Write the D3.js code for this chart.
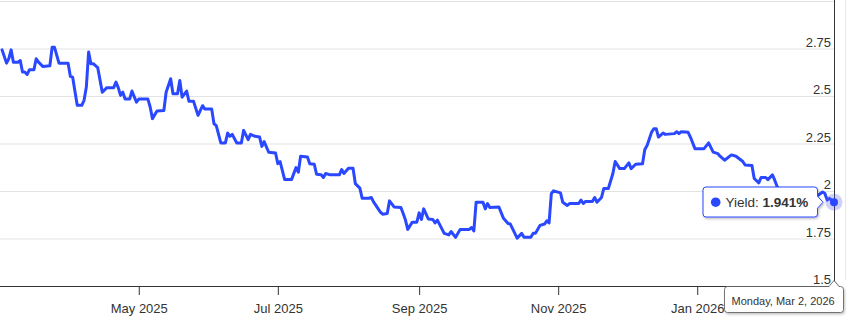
<!DOCTYPE html>
<html>
<head>
<meta charset="utf-8">
<script src="https://cdn.jsdelivr.net/npm/d3@7"></script>
<style>
  html, body { margin: 0; padding: 0; background: #fff; }
  svg { display: block; font-family: "Liberation Sans", Arial, Helvetica, sans-serif; }
</style>
</head>
<body>
<svg id="chart" width="863" height="333"></svg>
<script>
// ---- DATA ----
const dates = [
"2025-03-02","2025-03-04","2025-03-05","2025-03-06","2025-03-07","2025-03-09","2025-03-10","2025-03-11","2025-03-12","2025-03-13",
"2025-03-14","2025-03-16","2025-03-17","2025-03-18","2025-03-20","2025-03-23","2025-03-24","2025-03-25","2025-03-27","2025-03-31",
"2025-04-01","2025-04-02","2025-04-04","2025-04-06","2025-04-07","2025-04-08","2025-04-09","2025-04-10","2025-04-11","2025-04-13",
"2025-04-15","2025-04-17","2025-04-20","2025-04-21","2025-04-22","2025-04-23","2025-04-24","2025-04-25","2025-04-27","2025-04-28",
"2025-04-30","2025-05-01","2025-05-05","2025-05-06","2025-05-07","2025-05-09","2025-05-12","2025-05-13","2025-05-15","2025-05-16",
"2025-05-18","2025-05-19","2025-05-20","2025-05-22","2025-05-23","2025-05-25","2025-05-27","2025-05-29","2025-05-30","2025-06-02",
"2025-06-03","2025-06-04","2025-06-06","2025-06-08","2025-06-09","2025-06-10","2025-06-11","2025-06-13","2025-06-15","2025-06-16",
"2025-06-18","2025-06-19","2025-06-21","2025-06-23","2025-06-24","2025-06-25","2025-06-27","2025-06-30","2025-07-01","2025-07-02",
"2025-07-04","2025-07-07","2025-07-09","2025-07-10","2025-07-11","2025-07-14","2025-07-15","2025-07-17","2025-07-18","2025-07-20",
"2025-07-21","2025-07-22","2025-07-24","2025-07-28","2025-07-29","2025-07-30","2025-08-01","2025-08-03","2025-08-04","2025-08-06",
"2025-08-07","2025-08-10","2025-08-11","2025-08-12","2025-08-15","2025-08-16","2025-08-18","2025-08-19","2025-08-21","2025-08-24",
"2025-08-25","2025-08-26","2025-08-27","2025-08-29","2025-08-31","2025-09-01","2025-09-02","2025-09-03","2025-09-05","2025-09-07",
"2025-09-08","2025-09-09","2025-09-12","2025-09-14","2025-09-15","2025-09-17","2025-09-19","2025-09-23","2025-09-24","2025-09-25",
"2025-09-26","2025-09-29","2025-09-30","2025-10-01","2025-10-02","2025-10-06","2025-10-08","2025-10-10","2025-10-11","2025-10-14",
"2025-10-16","2025-10-17","2025-10-20","2025-10-21","2025-10-22","2025-10-24","2025-10-26","2025-10-27","2025-10-28","2025-10-29",
"2025-10-30","2025-11-02","2025-11-03","2025-11-05","2025-11-06","2025-11-10","2025-11-11","2025-11-12","2025-11-13","2025-11-16",
"2025-11-17","2025-11-18","2025-11-20","2025-11-21","2025-11-23","2025-11-25","2025-11-26","2025-11-28","2025-11-30","2025-12-02",
"2025-12-03","2025-12-05","2025-12-08","2025-12-09","2025-12-10","2025-12-12","2025-12-13","2025-12-14","2025-12-15","2025-12-17",
"2025-12-18","2025-12-22","2025-12-23","2025-12-24","2025-12-25","2025-12-28","2025-12-29","2025-12-31","2026-01-04","2026-01-06",
"2026-01-08","2026-01-10","2026-01-11","2026-01-13","2026-01-16","2026-01-18","2026-01-21","2026-01-22","2026-01-25","2026-01-26",
"2026-01-28","2026-01-29","2026-01-31","2026-02-01","2026-02-03","2026-02-04","2026-02-05","2026-02-07","2026-02-11","2026-02-15",
"2026-02-19","2026-02-22","2026-02-23","2026-02-25","2026-02-26","2026-02-27","2026-02-28","2026-03-02"
];
const yields = [
2.743,2.673,2.697,2.743,2.678,2.678,2.687,2.626,2.626,2.613,
2.638,2.638,2.696,2.678,2.655,2.659,2.757,2.757,2.673,2.673,
2.603,2.599,2.451,2.451,2.477,2.547,2.731,2.670,2.670,2.649,
2.520,2.544,2.544,2.573,2.544,2.503,2.520,2.484,2.484,2.526,
2.468,2.484,2.484,2.442,2.381,2.421,2.424,2.520,2.591,2.512,
2.512,2.582,2.494,2.526,2.473,2.473,2.398,2.449,2.431,2.431,
2.354,2.344,2.253,2.253,2.305,2.288,2.298,2.253,2.253,2.319,
2.270,2.298,2.288,2.284,2.235,2.260,2.204,2.200,2.144,2.155,
2.060,2.060,2.123,2.099,2.183,2.179,2.144,2.141,2.088,2.085,
2.071,2.092,2.085,2.085,2.113,2.092,2.120,2.120,2.039,2.015,
1.962,1.962,1.966,1.943,1.889,1.878,1.882,1.948,1.916,1.913,
1.882,1.847,1.798,1.836,1.836,1.885,1.850,1.906,1.853,1.850,
1.832,1.847,1.777,1.769,1.787,1.756,1.798,1.798,1.808,1.790,
1.941,1.941,1.906,1.934,1.913,1.916,1.856,1.829,1.826,1.752,
1.777,1.756,1.756,1.777,1.777,1.819,1.826,1.843,1.832,1.987,
2.001,1.990,1.941,1.924,1.934,1.934,1.952,1.934,1.945,1.945,
1.966,1.941,1.966,2.013,2.013,2.092,2.155,2.118,2.118,2.148,
2.118,2.141,2.144,2.218,2.239,2.310,2.328,2.328,2.284,2.305,
2.298,2.302,2.312,2.302,2.312,2.309,2.284,2.223,2.223,2.253,
2.205,2.197,2.183,2.162,2.190,2.183,2.155,2.137,2.134,2.066,
2.043,2.071,2.071,2.060,2.085,2.057,2.025,1.983,1.952,1.962,
1.973,1.968,1.978,1.995,1.987,1.952,1.961,1.941
];
const xTickDates = ["2025-05-01","2025-07-01","2025-09-01","2025-11-01","2026-01-01"];
const yTicks = [1.5, 1.75, 2, 2.25, 2.5, 2.75];
const yGrid = [1.75, 2, 2.25, 2.5, 2.75, 3];
const xDomain = ["2025-03-02","2026-03-02"];
const yDomain = [1.5, 3];
const seriesName = "Yield";
const hoverDate = "2026-03-02";
const hoverValue = 1.941;

// ---- CHART ----
(function () {
const parse = d3.timeParse("%Y-%m-%d");
const data = dates.map((d, i) => ({ date: parse(d), value: yields[i] }));

const svg = d3.select("#chart");
const mLeft = 2, mRight = 834, mTop = 1, mBottom = 286;
const blue = "#2a48ff";
const textCol = "#333";

const x = d3.scaleTime().domain(xDomain.map(parse)).range([mLeft, mRight]);
const y = d3.scaleLinear().domain(yDomain).range([mBottom, mTop]);

// container border at right
svg.append("line").attr("x1", 845.5).attr("x2", 845.5).attr("y1", 0).attr("y2", 280)
  .attr("stroke", "#e8e8e8").attr("stroke-width", 1);

// gridlines
const grid = svg.append("g").attr("transform", `translate(${mRight},0)`)
  .call(d3.axisLeft(y).tickValues(yGrid).tickSize(mRight).tickFormat(""));
grid.select(".domain").remove();
grid.selectAll(".tick line").attr("stroke", "#e3e3e3").attr("stroke-width", 1);

// y labels
const yAx = svg.append("g").attr("transform", `translate(${mRight},0)`)
  .call(d3.axisLeft(y).tickValues(yTicks).tickSize(0).tickPadding(3).tickFormat(d3.format("")));
yAx.select(".domain").remove();
yAx.selectAll("text").attr("dy", "-2.5").attr("fill", textCol)
  .style("font-size", "13px").style("font-family", "'Liberation Sans', Arial, sans-serif");

// right axis line
svg.append("line").attr("x1", mRight + 0.5).attr("x2", mRight + 0.5).attr("y1", 0).attr("y2", mBottom)
  .attr("stroke", "#333").attr("stroke-width", 1);

// x axis
const xAx = svg.append("g").attr("transform", `translate(0,${mBottom})`)
  .call(d3.axisBottom(x).tickValues(xTickDates.map(parse)).tickSize(9).tickPadding(9)
    .tickFormat(d3.timeFormat("%b %Y")));
xAx.select(".domain").attr("d", `M0,0.5H${mRight + 1}`).attr("stroke", "#333");
xAx.selectAll(".tick line").attr("stroke", "#333");
xAx.selectAll("text").attr("fill", textCol)
  .style("font-size", "13px").style("font-family", "'Liberation Sans', Arial, sans-serif");

// line
const line = d3.line().x(d => x(d.date)).y(d => y(d.value));
svg.append("path").datum(data).attr("d", line)
  .attr("fill", "none").attr("stroke", blue).attr("stroke-width", 3)
  .attr("stroke-linejoin", "round").attr("stroke-linecap", "round");

// hover marker
const hx = x(parse(hoverDate)), hy = y(hoverValue);
svg.append("circle").attr("cx", hx).attr("cy", hy).attr("r", 8.5).attr("fill", "rgba(90,90,230,0.28)");
svg.append("circle").attr("cx", hx).attr("cy", hy).attr("r", 4).attr("fill", blue);

// shadow filter
const defs = svg.append("defs");
const f = defs.append("filter").attr("id", "sh").attr("x", "-20%").attr("y", "-30%").attr("width", "140%").attr("height", "170%");
f.append("feDropShadow").attr("dx", 1).attr("dy", 1.5).attr("stdDeviation", 1.2).attr("flood-color", "#000").attr("flood-opacity", 0.25);

// value tooltip
const tx0 = 703, tx1 = 817.5, ty0 = 187, ty1 = 217, tipX = hx - 11, r = 3;
const tipY = hy;
const tp = d3.path();
tp.moveTo(tx0 + r, ty0);
tp.lineTo(tx1 - r, ty0);
tp.quadraticCurveTo(tx1, ty0, tx1, ty0 + r);
tp.lineTo(tx1, tipY - 6);
tp.lineTo(tipX, tipY);
tp.lineTo(tx1, tipY + 6);
tp.lineTo(tx1, ty1 - r);
tp.quadraticCurveTo(tx1, ty1, tx1 - r, ty1);
tp.lineTo(tx0 + r, ty1);
tp.quadraticCurveTo(tx0, ty1, tx0, ty1 - r);
tp.lineTo(tx0, ty0 + r);
tp.quadraticCurveTo(tx0, ty0, tx0 + r, ty0);
tp.closePath();
svg.append("path").attr("d", tp.toString()).attr("fill", "#fff").attr("stroke", blue)
  .attr("stroke-width", 1).attr("filter", "url(#sh)");
svg.append("circle").attr("cx", 715.7).attr("cy", tipY).attr("r", 4.8).attr("fill", blue);
const tt = svg.append("text").attr("x", 725.5).attr("y", tipY + 4.8).attr("fill", textCol)
  .style("font-size", "13.5px");
tt.append("tspan").text(seriesName + ": ");
tt.append("tspan").attr("font-weight", "bold").text(d3.format(".3f")(hoverValue) + "%");

// date tooltip
const bx0 = 724.5, bx1 = 843.5, by0 = 286.5, by1 = 312.5;
const dp = d3.path();
dp.moveTo(bx0 + r, by0);
dp.lineTo(hx - 5, by0);
dp.lineTo(hx, by0 - 6);
dp.lineTo(hx + 5, by0);
dp.lineTo(bx1 - r, by0);
dp.quadraticCurveTo(bx1, by0, bx1, by0 + r);
dp.lineTo(bx1, by1 - r);
dp.quadraticCurveTo(bx1, by1, bx1 - r, by1);
dp.lineTo(bx0 + r, by1);
dp.quadraticCurveTo(bx0, by1, bx0, by1 - r);
dp.lineTo(bx0, by0 + r);
dp.quadraticCurveTo(bx0, by0, bx0 + r, by0);
dp.closePath();
svg.append("path").attr("d", dp.toString()).attr("fill", "#fff").attr("stroke", "#555")
  .attr("stroke-width", 0.8).attr("filter", "url(#sh)");
svg.append("text").attr("x", 731.5).attr("y", 305).attr("fill", textCol)
  .style("font-size", "11px").text(d3.timeFormat("%A, %b %-d, %Y")(parse(hoverDate)));
})();
</script>
</body>
</html>
